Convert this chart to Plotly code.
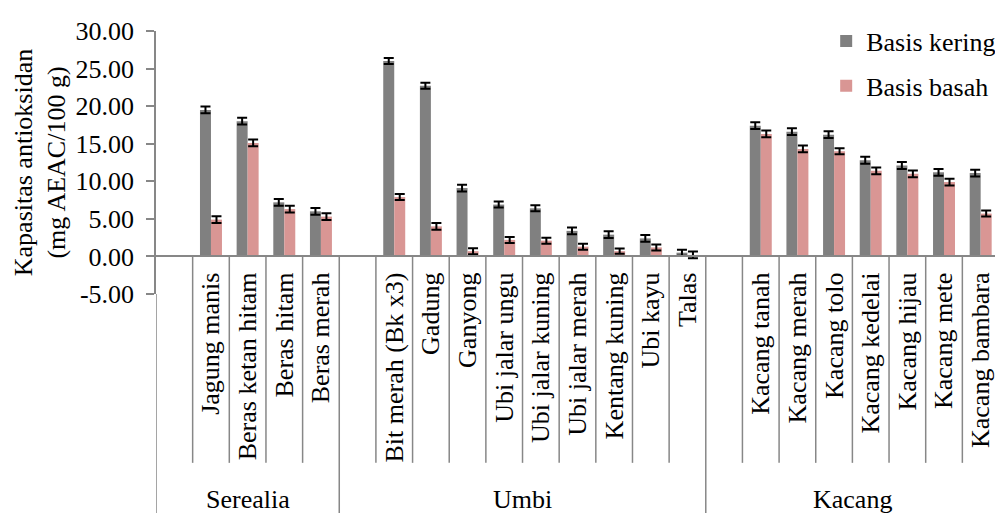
import plotly.graph_objects as go

# ---------------- data ----------------
group_names = ["Serealia", "Umbi", "Kacang"]
serealia = ["Jagung manis", "Beras ketan hitam", "Beras hitam", "Beras merah"]
umbi = ["Bit merah (Bk x3)", "Gadung", "Ganyong", "Ubi jalar ungu", "Ubi jalar kuning",
        "Ubi jalar merah", "Kentang kuning", "Ubi kayu", "Talas"]
kacang = ["Kacang tanah", "Kacang merah", "Kacang tolo", "Kacang kedelai",
          "Kacang hijau", "Kacang mete", "Kacang bambara"]

kering_serealia = [19.5, 18.0, 7.2, 6.0]
basah_serealia = [4.9, 15.1, 6.3, 5.3]
kering_umbi = [26.0, 22.7, 9.1, 6.9, 6.4, 3.4, 2.9, 2.4, 0.5]
basah_umbi = [7.9, 4.0, 0.7, 2.2, 2.1, 1.3, 0.7, 1.2, 0.2]
kering_kacang = [17.4, 16.6, 16.2, 12.8, 12.1, 11.2, 11.1]
basah_kacang = [16.3, 14.3, 14.0, 11.4, 11.0, 9.9, 5.7]

err_kering_serealia = [0.45, 0.45, 0.45, 0.45]
err_basah_serealia = [0.45, 0.45, 0.45, 0.45]
err_kering_umbi = [0.4, 0.4, 0.45, 0.4, 0.4, 0.45, 0.45, 0.45, 0.4]
err_basah_umbi = [0.4, 0.45, 0.4, 0.4, 0.4, 0.4, 0.35, 0.4, 0.45]
err_kering_kacang = [0.45, 0.45, 0.45, 0.45, 0.45, 0.45, 0.45]
err_basah_kacang = [0.45, 0.45, 0.4, 0.45, 0.45, 0.45, 0.4]

y_ticks = [-5, 0, 5, 10, 15, 20, 25, 30]
y_tick_labels = ["%.2f" % v for v in y_ticks]

series_names = ["Basis kering", "Basis basah"]
colors = ["#808080", "#D99694"]

# --------------- build slots ---------------
groups = [serealia, umbi, kacang]
kering = [kering_serealia, kering_umbi, kering_kacang]
basah = [basah_serealia, basah_umbi, basah_kacang]
ek = [err_kering_serealia, err_kering_umbi, err_kering_kacang]
eb = [err_basah_serealia, err_basah_umbi, err_basah_kacang]

xs, labels, yk, yb, ekk, ebb = [], [], [], [], [], []
group_ranges = []
idx = 0
for gi, cats in enumerate(groups):
    start = idx
    idx += 1  # empty slot before each group
    for ci, c in enumerate(cats):
        xs.append(idx)
        labels.append(c)
        yk.append(kering[gi][ci])
        yb.append(basah[gi][ci])
        ekk.append(ek[gi][ci])
        ebb.append(eb[gi][ci])
        idx += 1
    group_ranges.append((start - 0.5, idx - 0.5))
n_slots = idx

FONT = "'Liberation Serif', 'Times New Roman', Times, serif"
FS = 26
LINE = "#878787"

fig = go.Figure()
fig.add_trace(go.Bar(
    x=xs, y=yk, name=series_names[0], legendgroup="a",
    marker=dict(color=colors[0], line=dict(width=0)),
    error_y=dict(type="data", array=ekk, color="black", thickness=2, width=5)))
fig.add_trace(go.Bar(
    x=xs, y=yb, name=series_names[1], legendgroup="b",
    marker=dict(color=colors[1], line=dict(width=0)),
    error_y=dict(type="data", array=ebb, color="black", thickness=2, width=5)))

ymin, ymax = y_ticks[0], y_ticks[-1]
zero_paper = (0 - ymin) / (ymax - ymin)

shapes = []
# short category separators
for gi, (a, b) in enumerate(group_ranges):
    k = a + 1
    while k < b - 0.01:
        shapes.append(dict(type="line", xref="x", yref="paper", x0=k, x1=k,
                           y0=zero_paper, y1=-0.642, line=dict(color=LINE, width=1.5)))
        k += 1
# long group separators
bounds = [group_ranges[0][0]] + [r[1] for r in group_ranges]
for bx in bounds:
    shapes.append(dict(type="line", xref="x", yref="paper", x0=bx, x1=bx,
                       y0=zero_paper if bx != bounds[0] else 0, y1=-0.9,
                       line=dict(color=LINE, width=1.5)))

annotations = []
for gi, (a, b) in enumerate(group_ranges):
    annotations.append(dict(x=(a + b) / 2, y=-0.782, xref="x", yref="paper",
                            text=group_names[gi], showarrow=False,
                            font=dict(family=FONT, size=FS, color="black"),
                            xanchor="center", yanchor="middle"))

fig.update_layout(
    width=1003, height=513,
    margin=dict(l=148, r=10, t=15, b=227),
    paper_bgcolor="white", plot_bgcolor="white",
    font=dict(family=FONT, size=FS, color="black"),
    barmode="group", bargap=0.4, bargroupgap=0,
    shapes=shapes, annotations=annotations,
    showlegend=True,
    legend=dict(x=0.795, y=1.051, xanchor="left", yanchor="top",
                traceorder="grouped", tracegroupgap=8,
                font=dict(family=FONT, size=FS, color="black"), bgcolor="rgba(0,0,0,0)"),
    xaxis=dict(range=[-0.5, n_slots - 0.5], tickmode="array", tickvals=xs, ticktext=labels,
               tickangle=-90, anchor="free", position=zero_paper, showline=True,
               linecolor=LINE, linewidth=1.5, ticks="", showgrid=False, zeroline=False,
               ticklabelstandoff=5, tickfont=dict(family=FONT, size=FS, color="black")),
    yaxis=dict(range=[ymin, ymax], tickmode="array", tickvals=y_ticks, ticktext=y_tick_labels,
               showline=True, linecolor=LINE, linewidth=1.5, ticks="outside", ticklen=8,
               tickcolor=LINE, tickwidth=1.5, showgrid=False, zeroline=False,
               ticklabelstandoff=7,
               tickfont=dict(family=FONT, size=FS, color="black"),
               title=dict(text="Kapasitas antioksidan<br>(mg AEAC/100 g)",
                          font=dict(family=FONT, size=FS, color="black"), standoff=2)),
)

fig.write_html("out.html")
